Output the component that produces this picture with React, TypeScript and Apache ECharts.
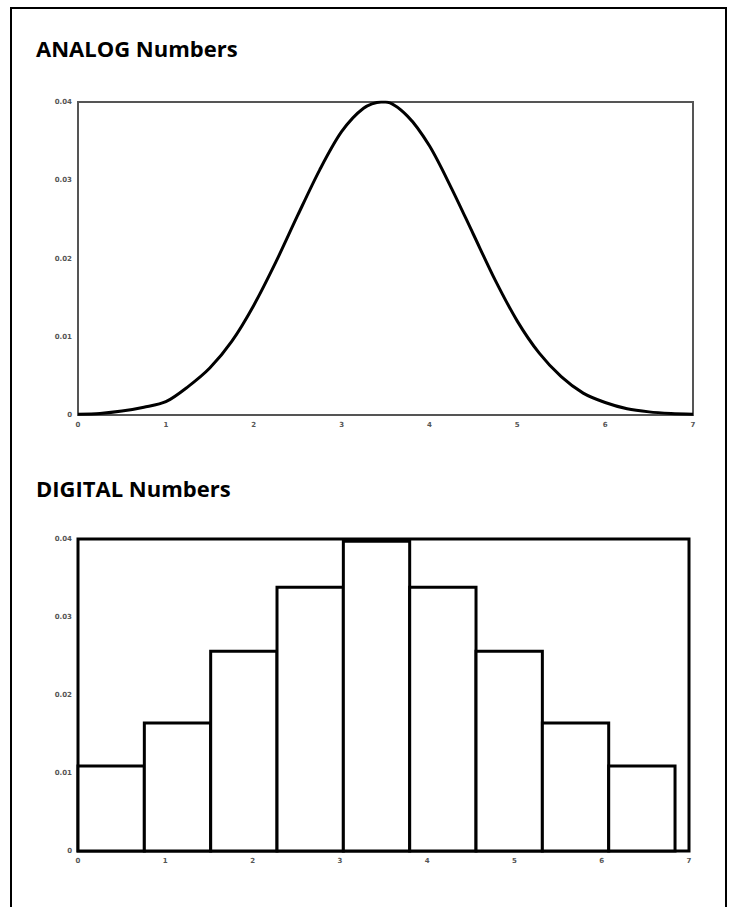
import React, { useEffect, useRef } from "react";
import * as echarts from "echarts";

const analogX = [0, 0.25, 0.5, 0.75, 1, 1.25, 1.5, 1.75, 2, 2.25, 2.5, 2.75, 3, 3.25, 3.45, 3.5, 3.75, 4, 4.25, 4.5, 4.75, 5, 5.25, 5.5, 5.75, 6, 6.25, 6.5, 6.75, 7];
const analogY = [0.0001, 0.0002, 0.0005, 0.001, 0.0017, 0.0036, 0.006, 0.0094, 0.014, 0.0195, 0.0255, 0.0313, 0.0362, 0.0392, 0.04, 0.04, 0.0382, 0.0344, 0.029, 0.0231, 0.0172, 0.012, 0.0079, 0.0049, 0.0028, 0.0016, 0.0008, 0.0004, 0.0002, 0.0001];

const binEdges = [0, 0.76, 1.52, 2.28, 3.04, 3.8, 4.56, 5.32, 6.08, 6.84];
const binValues = [0.0109, 0.0164, 0.0256, 0.0338, 0.0397, 0.0338, 0.0256, 0.0164, 0.0109];

const xTicks = [0, 1, 2, 3, 4, 5, 6, 7];
const yTicks = [0, 0.01, 0.02, 0.03, 0.04];

const titles = ["ANALOG Numbers", "DIGITAL Numbers"];

export default function App() {
  const ref = useRef<HTMLDivElement>(null);
  useEffect(() => {
    if (!ref.current) return;
    const chart = echarts.init(ref.current, null, { renderer: "svg" });
    const tickLabel = {
      fontSize: 7,
      color: "#555",
      fontWeight: "bold" as const,
      fontFamily: "DejaVu Sans",
    };
    const fmtY = (v: number) => (v === 0 ? "0" : v.toFixed(2));
    const mkX = (gridIndex: number) => ({
      type: "value" as const,
      gridIndex,
      min: xTicks[0],
      max: xTicks[xTicks.length - 1],
      interval: 1,
      axisLine: { show: false },
      axisTick: { show: false },
      splitLine: { show: false },
      axisLabel: { ...tickLabel, margin: 6 },
    });
    const mkY = (gridIndex: number) => ({
      type: "value" as const,
      gridIndex,
      min: yTicks[0],
      max: yTicks[yTicks.length - 1],
      interval: 0.01,
      axisLine: { show: false },
      axisTick: { show: false },
      splitLine: { show: false },
      axisLabel: { ...tickLabel, margin: 6, formatter: fmtY },
    });
    const barData = binValues.map((v, i) => [binEdges[i], binEdges[i + 1], v]);
    const titleStyle = { fontFamily: "Open Sans", fontWeight: "bold", fontSize: 22, color: "#000" };
    chart.setOption({
      animation: false,
      backgroundColor: "#fff",
      title: [
        { text: titles[0], left: 31, top: 32, textStyle: titleStyle },
        { text: titles[1], left: 31, top: 472, textStyle: titleStyle },
      ],
      graphic: [
        {
          type: "rect",
          shape: { x: 11, y: 8, width: 715, height: 930 },
          style: { fill: "none", stroke: "#000", lineWidth: 2 },
        },
      ],
      grid: [
        { left: 78, top: 102, width: 615, height: 313, show: true, borderColor: "#555", borderWidth: 2, backgroundColor: "transparent" },
        { left: 78, top: 539, width: 611, height: 312, show: true, borderColor: "#000", borderWidth: 3, backgroundColor: "transparent" },
      ],
      xAxis: [mkX(0), mkX(1)],
      yAxis: [mkY(0), mkY(1)],
      series: [
        {
          type: "line",
          xAxisIndex: 0,
          yAxisIndex: 0,
          data: analogX.map((x, i) => [x, analogY[i]]),
          smooth: 0.3,
          showSymbol: false,
          lineStyle: { color: "#000", width: 3 },
          z: 3,
        },
        {
          type: "custom",
          xAxisIndex: 1,
          yAxisIndex: 1,
          data: barData,
          encode: { x: [0, 1], y: 2 },
          renderItem: (params: any, api: any) => {
            const s = api.coord([api.value(0), 0]);
            const e = api.coord([api.value(1), api.value(2)]);
            return {
              type: "rect",
              shape: { x: s[0], y: e[1], width: e[0] - s[0], height: s[1] - e[1] },
              style: { fill: "#fff", stroke: "#000", lineWidth: 3 },
            };
          },
          z: 3,
        },
      ],
    });
    return () => chart.dispose();
  }, []);
  return (
    <div
      ref={ref}
      style={{ position: "fixed", left: 0, top: 0, width: 737, height: 907 }}
    />
  );
}
